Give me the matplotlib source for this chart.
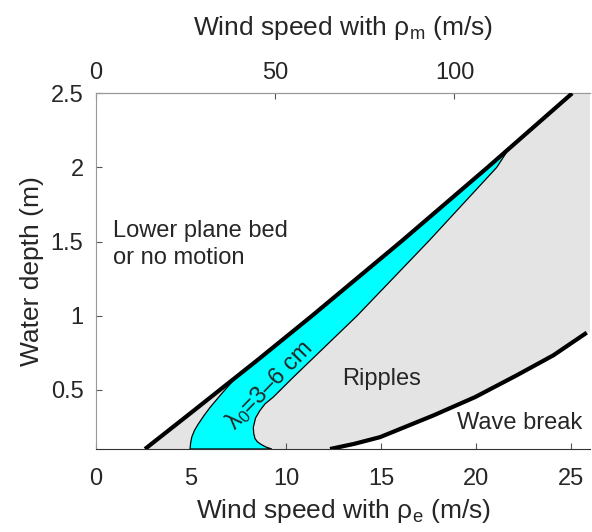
import matplotlib
matplotlib.use('Agg')
import matplotlib.pyplot as plt

plt.rcParams['font.family'] = ['Liberation Sans', 'DejaVu Sans']
plt.rcParams['mathtext.fontset'] = 'custom'
plt.rcParams['mathtext.rm'] = 'Liberation Sans'
plt.rcParams['mathtext.default'] = 'regular'

# upper black line (threshold of motion)
upper_x = [2.58, 5.055, 7.81, 8.48, 11.38, 16.06, 20.61, 25.06]
upper_y = [0.10, 0.35, 0.63, 0.698, 1.0, 1.5, 2.0, 2.5]

# wave breaking limit
wave_x = [12.32, 13.6, 14.95, 17.75, 19.95, 22.14, 24.07, 25.83]
wave_y = [0.10, 0.135, 0.18, 0.326, 0.45, 0.597, 0.732, 0.885]

# cyan band, lambda0 = 3-6 cm (left edge then right edge back down)
band_left_x = [4.95, 4.98, 5.04, 5.18, 5.39, 5.68, 6.0, 6.61, 7.23, 7.81, 8.48, 11.38, 16.06, 20.61, 21.6]
band_left_y = [0.10, 0.14, 0.18, 0.225, 0.27, 0.325, 0.38, 0.473, 0.563, 0.63, 0.698, 1.0, 1.5, 2.0, 2.1]
band_right_x = [21.09, 17.49, 13.75, 10.3, 9.33, 8.9, 8.63, 8.4, 8.28, 8.3, 8.37, 8.5, 8.7, 8.95, 9.25]
band_right_y = [2.0, 1.5, 1.0, 0.574, 0.45, 0.405, 0.36, 0.31, 0.247, 0.205, 0.17, 0.148, 0.13, 0.113, 0.10]

xmax = 26
ratio = 5.3  # rho_e -> rho_m wind speed

txt = '#262626'
fig = plt.figure(figsize=(5.92, 5.32), dpi=100)
ax = fig.add_axes([96/592, 83/532, 494/592, 355.7/532])

# ripple region (gray)
gx = upper_x + [xmax, xmax] + wave_x[::-1]
gy = upper_y + [2.5, wave_y[-1]] + wave_y[::-1]
ax.fill(gx, gy, color='#e4e4e4', lw=0, zorder=1)

ax.fill(band_left_x + band_right_x, band_left_y + band_right_y,
        facecolor='#00ffff', edgecolor='black', lw=0.9, zorder=2)

ax.plot(upper_x, upper_y, color='black', lw=3, solid_capstyle='butt', zorder=3)
ax.plot(wave_x, wave_y, color='black', lw=3, solid_capstyle='butt', zorder=3)

ax.text(0.9, 1.48, 'Lower plane bed\nor no motion', fontsize=17, color=txt,
        ha='left', va='center', linespacing=1.3)
ax.text(12.98, 0.57, 'Ripples', fontsize=17, color=txt, ha='left', va='center')
ax.text(18.98, 0.274, 'Wave break', fontsize=17, color=txt, ha='left', va='center')
ax.text(9.1, 0.529, 'λ$_0$=3–6 cm', fontsize=17, color=txt, rotation=46,
        ha='center', va='center', rotation_mode='anchor')

ax.set_xlim(0, xmax)
ax.set_ylim(0.1, 2.5)
ax.set_xticks([0, 5, 10, 15, 20, 25])
ax.set_yticks([0.5, 1, 1.5, 2, 2.5])
ax.set_yticklabels(['0.5', '1', '1.5', '2', '2.5'])
ax.tick_params(direction='in', length=4, labelsize=17, labelcolor=txt, color='#555555')
ax.tick_params(axis='y', pad=9)
ax.tick_params(axis='x', pad=14)
ax.spines['right'].set_visible(False)
ax.spines['left'].set_color('#999999')
ax.spines['bottom'].set_color('#333333')
ax.spines['top'].set_color('#999999')
ax.set_xlabel('Wind speed with ρ$_e$ (m/s)', fontsize=19, color=txt, labelpad=5)
ax.set_ylabel('Water depth (m)', fontsize=19, color=txt, labelpad=5)

sec = ax.secondary_xaxis('top', functions=(lambda v: v * ratio, lambda v: v / ratio))
sec.set_xticks([0, 50, 100])
sec.tick_params(direction='in', length=4, labelsize=17, labelcolor=txt, color='#555555', pad=7)
sec.spines['top'].set_color('#999999')
sec.set_xlabel('Wind speed with ρ$_m$ (m/s)', fontsize=19, color=txt, labelpad=19)

plt.savefig('out.png', dpi=100)
